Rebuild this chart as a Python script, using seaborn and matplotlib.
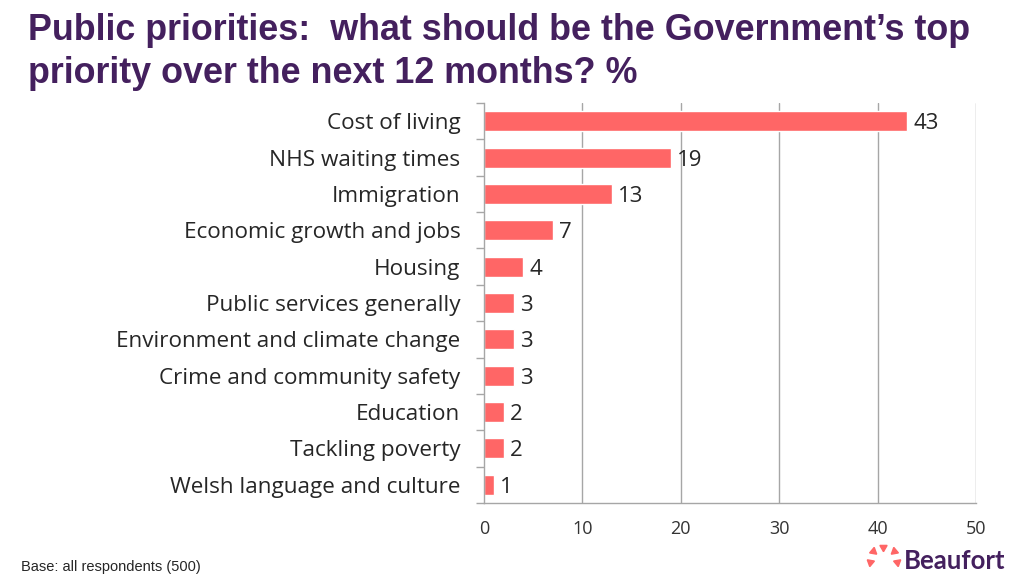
import matplotlib
matplotlib.use("Agg")
import matplotlib.pyplot as plt
import seaborn as sns
import pandas as pd
import numpy as np

categories = ["Cost of living", "NHS waiting times", "Immigration", "Economic growth and jobs",
              "Housing", "Public services generally", "Environment and climate change",
              "Crime and community safety", "Education", "Tackling poverty",
              "Welsh language and culture"]
values = [43, 19, 13, 7, 4, 3, 3, 3, 2, 2, 1]
x_ticks = [0, 10, 20, 30, 40, 50]

df = pd.DataFrame({"priority": categories, "pct": values})

sns.set_theme(style="white")
plt.rcParams['font.family'] = ['Open Sans', 'DejaVu Sans']

fig = plt.figure(figsize=(10.2, 5.8), dpi=100)
ax = fig.add_axes([0.4745, 0.1328, 0.9569 - 0.4745, 0.8224 - 0.1328])

bar_color = "#FF6666"
sns.barplot(data=df, x="pct", y="priority", orient="h", color=bar_color,
            width=0.55, ax=ax, saturation=1)

ax.set_xlim(0, 50)
ax.set_ylim(len(categories) - 0.5, -0.5)
ax.set_xticks(x_ticks)
ax.set_xticklabels([str(t) for t in x_ticks], fontsize=13, color="#333333")
ax.set_xlabel("")
ax.set_ylabel("")

grid_c = "#A6A6A6"
for t in x_ticks[1:]:
    ax.axvline(t, color=grid_c, lw=1, zorder=0)
ax.set_axisbelow(True)

for s in ["top", "right"]:
    ax.spines[s].set_visible(False)
ax.spines["left"].set_color(grid_c)
ax.spines["bottom"].set_color(grid_c)
ax.spines["left"].set_linewidth(1)
ax.spines["bottom"].set_linewidth(1)

# category labels at centers, tick marks at boundaries
ax.set_yticks(np.arange(len(categories)))
ax.set_yticklabels(categories, fontsize=16.2, color="#262626")
ax.tick_params(axis="y", which="major", left=False, length=0, pad=17)
ax.set_yticks(np.arange(len(categories) + 1) - 0.5, minor=True)
ax.tick_params(axis="y", which="minor", left=True, length=6, color=grid_c, width=1, direction="out")
ax.tick_params(axis="x", which="both", bottom=False, length=0, pad=12)

for i, v in enumerate(values):
    ax.annotate(str(v), (v, i), xytext=(4.5, 0), textcoords="offset points",
                va="center_baseline", ha="left", fontsize=16, color="#262626")

title_c = "#44205E"
fig.text(0.027, 0.978, "Public priorities:  what should be the Government\u2019s top\npriority over the next 12 months? %",
         ha="left", va="top", fontsize=25.8, fontweight="bold", color=title_c,
         family=["Liberation Sans", "DejaVu Sans"], linespacing=1.32)

fig.text(0.021, 0.023, "Base: all respondents (500)", ha="left", va="center",
         fontsize=10.5, color="#262626", family=["Liberation Sans", "DejaVu Sans"])

# Beaufort logo
fig.text(0.886, 0.033, "Beaufort", ha="left", va="center", fontsize=18.5, fontweight="bold",
         color=title_c, family=["Lato", "DejaVu Sans"])
lax = fig.add_axes([0.848, 0.012, 0.036, 0.05])
lax.set_xlim(-1.3, 1.3)
lax.set_ylim(-1.3, 1.3)
lax.axis("off")
for ang in [90, 140, 40, 200, -20]:
    r = np.deg2rad(ang)
    lax.plot(np.cos(r), np.sin(r), marker=(3, 0, ang + 90), markersize=6, color=bar_color, ls="none")

fig.savefig("out.png", dpi=100, facecolor="white")
